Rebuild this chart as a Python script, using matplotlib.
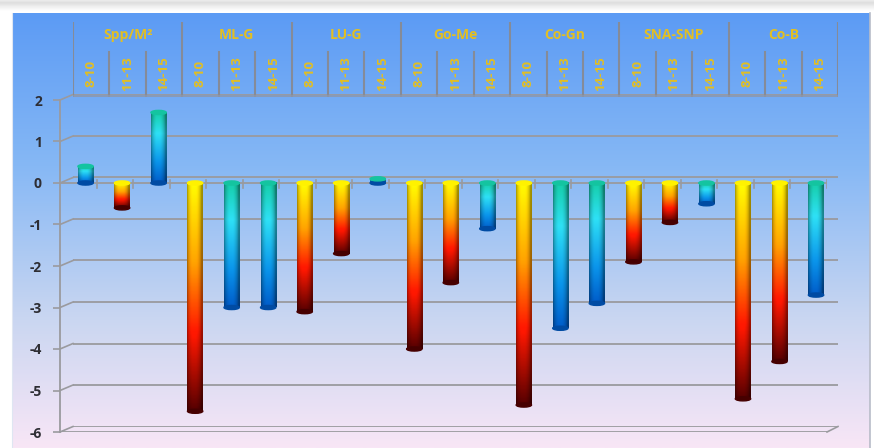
import numpy as np
import matplotlib
matplotlib.use("Agg")
import matplotlib.pyplot as plt
from matplotlib.colors import LinearSegmentedColormap
from matplotlib.lines import Line2D
from matplotlib.patches import Ellipse

# ---------------------------------------------------
# DATA
# ---------------------------------------------------

groups = ["Spp/M²", "ML-G", "LU-G", "Go-Me", "Co-Gn", "SNA-SNP", "Co-B"]
ages = ["8-10", "11-13", "14-15"]

spp_m2 = [0.4, -0.6, 1.7]
ml_g = [-5.5, -3.0, -3.0]
lu_g = [-3.1, -1.7, 0.1]
go_me = [-4.0, -2.4, -1.1]
co_gn = [-5.35, -3.5, -2.9]
sna_snp = [-1.9, -0.95, -0.5]
co_b = [-5.2, -4.3, -2.7]

y_ticks = [2, 1, 0, -1, -2, -3, -4, -5, -6]

values = spp_m2 + ml_g + lu_g + go_me + co_gn + sna_snp + co_b

# colour ramp used for each bar
ramps = ["cool", "hot", "cool",
         "hot", "cool", "cool",
         "hot", "hot", "cool",
         "hot", "hot", "cool",
         "hot", "cool", "cool",
         "hot", "hot", "cool",
         "hot", "hot", "cool"]

# ---------------------------------------------------
# STYLE
# ---------------------------------------------------

W, H = 874, 448
plt.rcParams["font.family"] = ["Open Sans", "DejaVu Sans"]

hot = LinearSegmentedColormap.from_list(
    "hot_bar",
    [(0.0, "#fff200"), (0.35, "#ff9c00"), (0.65, "#ff1800"), (1.0, "#520000")]
)
cool = LinearSegmentedColormap.from_list(
    "cool_bar",
    [(0.0, "#14c4a0"), (0.3, "#2cd6ea"), (0.7, "#0a8ee0"), (1.0, "#0058c0")]
)
cmaps = {"hot": hot, "cool": cool}

grid_color = "#9a9a9e"
label_gold = "#e2bf22"


def fx(px):
    return px / W


def fy(py):
    return 1 - py / H


def fig_line(xs, ys, **kw):
    fig.add_artist(Line2D([fx(x) for x in xs], [fy(y) for y in ys],
                          transform=fig.transFigure, **kw))


def axes_px(left, right, top, bottom):
    return [fx(left), fy(bottom), fx(right) - fx(left), fy(top) - fy(bottom)]


fig = plt.figure(figsize=(W / 100, H / 100), dpi=100)

# ---------------------------------------------------
# BACKGROUND
# ---------------------------------------------------

bg = fig.add_axes([0, 0, 1, 1], zorder=-10)
bg.set_xlim(0, W)
bg.set_ylim(H, 0)
bg.axis("off")

bg_map = LinearSegmentedColormap.from_list(
    "bg",
    [(0.0, "#5c9bf4"), (0.35, "#86b8f5"), (0.7, "#c9d6f1"), (1.0, "#f8e6f6")]
)
grad = np.linspace(0, 1, 256)[:, None]
bg.imshow(bg_map(grad), extent=[12, 870, H, 13], aspect="auto")

# soft grey shadow along the top edge
shadow = np.interp(np.linspace(0, 1, 64), [0, 0.25, 0.6, 1], [0.93, 0.87, 0.94, 1.0])
shadow = shadow[:, None] * np.ones((1, 2))
bg.imshow(np.dstack([shadow] * 3), extent=[0, W, 11, 0], aspect="auto")
bg.plot([870, 870], [13, H], color="#b8bcc8", lw=1.2)
bg.plot([12, 12], [13, H], color="#dfe6f2", lw=0.8)

# ---------------------------------------------------
# BACK WALL (GRIDLINES)
# ---------------------------------------------------

unit = 41.5
back_zero = 177.5
front_zero = 183.0

back = fig.add_axes(axes_px(73, 838, back_zero - 2 * unit, back_zero + 6 * unit),
                    zorder=1)
back.patch.set_alpha(0)
back.set_xlim(0, 21)
back.set_ylim(-6, 2)
back.axis("off")
for v in y_ticks:
    back.axhline(v, color=grid_color, lw=1.3)

# ---------------------------------------------------
# HEADER WITH GROUP / AGE LABELS
# ---------------------------------------------------

head = fig.add_axes(axes_px(73, 838, 22, 97), zorder=2)
head.patch.set_alpha(0)
head.set_xlim(0, 21)
head.set_ylim(0, 1)
head.axis("off")

for k in range(22):
    top = 1.0 if k % 3 == 0 else 0.6
    head.plot([k, k], [0, top], color="#858b98", lw=1.5)
head.axhline(0, color="#8e97a8", lw=3, alpha=0.8)

for g, name in enumerate(groups):
    head.text(g * 3 + 1.5, 0.83, name, ha="center", va="center",
              color=label_gold, fontsize=10, fontweight="bold")
    for a, age in enumerate(ages):
        head.text(g * 3 + a + 0.5, 0.31, age, ha="center", va="center",
                  rotation=90, color=label_gold, fontsize=9.5,
                  fontweight="bold")

# ---------------------------------------------------
# FRONT AXES WITH BARS
# ---------------------------------------------------

ax = fig.add_axes(axes_px(60, 827, front_zero - 2 * unit, front_zero + 6 * unit),
                  zorder=3)
ax.patch.set_alpha(0)

bar_w = 0.42
centers = np.arange(len(values)) + 0.7

u = np.linspace(0, 1, 40)
shade = 0.62 + 0.45 * np.sin(np.pi * np.clip(u * 1.1, 0, 1)) ** 0.6
shade = np.clip(shade, 0, 1.05)

for c, v, r in zip(centers, values, ramps):
    t = np.linspace(0, 1, 200)[:, None]
    rgb = cmaps[r](t)[:, :, :3] * np.ones((1, len(u), 1))
    rgb = np.clip(rgb * shade[None, :, None], 0, 1)
    top, bottom = max(v, 0), min(v, 0)
    ax.imshow(rgb, extent=[c - bar_w / 2, c + bar_w / 2, bottom, top],
              aspect="auto", origin="upper", zorder=3, interpolation="bilinear")
    # rounded ends of the cylinder
    end_col = np.array(cmaps[r](1.0)[:3]) * 0.85
    top_col = np.array(cmaps[r](0.0)[:3])
    ax.add_patch(Ellipse((c, bottom), bar_w, 0.1, color=end_col, zorder=3))
    ax.add_patch(Ellipse((c, top), bar_w, 0.1, color=top_col, zorder=4))

ax.set_xlim(0, 21)
ax.set_ylim(-6, 2)

# zero line and floor on the front plane
ax.axhline(0, color=grid_color, lw=1.3, zorder=2)
ax.axhline(-6, color=grid_color, lw=1.3, zorder=2)
for k in range(1, 22):
    ax.plot([k, k], [0.08, -0.12], color=grid_color, lw=1.2, zorder=2)

for side in ["top", "right", "bottom"]:
    ax.spines[side].set_visible(False)
ax.spines["left"].set_color(grid_color)
ax.spines["left"].set_linewidth(1.3)
ax.set_xticks([])
ax.set_yticks(y_ticks)
ax.set_yticklabels([str(v) for v in y_ticks], fontsize=10,
                   fontweight="bold", color="#2e2e34")
ax.tick_params(axis="y", length=5, width=1.2, color=grid_color, pad=8)

# ---------------------------------------------------
# 3D CONNECTORS BETWEEN FRONT AND BACK PLANES
# ---------------------------------------------------

for v in y_ticks:
    fig_line([60, 73], [front_zero - unit * v, back_zero - unit * v],
             color=grid_color, lw=1.2, zorder=2)
fig_line([827, 838], [front_zero + 6 * unit, back_zero + 6 * unit],
         color=grid_color, lw=1.2, zorder=2)

plt.savefig("out.png", dpi=100)
